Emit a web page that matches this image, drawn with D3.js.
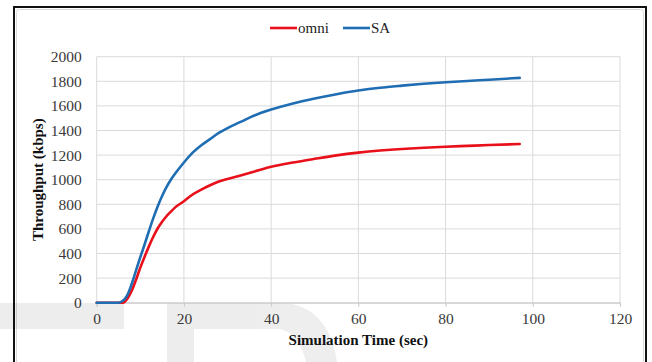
<!DOCTYPE html>
<html>
<head>
<meta charset="utf-8">
<script src="https://cdn.jsdelivr.net/npm/d3@7"></script>
<style>
  body { margin: 0; background: #fff; }
  svg text { font-family: "Liberation Serif", "Times New Roman", serif; }
</style>
</head>
<body>
<div id="chart"></div>
<script>
// Data
var times = [0, 4, 5, 6, 7, 8, 9, 10, 11, 12, 13, 14, 15, 16, 17, 18, 20, 22, 24, 26, 28, 30, 33, 36, 40, 45, 50, 55, 60, 65, 70, 75, 80, 85, 90, 97]
var omni = [0, 0, 0, 0, 30, 95, 185, 285, 375, 460, 538, 605, 658, 703, 740, 775, 825, 880, 920, 955, 985, 1005, 1035, 1065, 1105, 1140, 1170, 1198, 1220, 1237, 1250, 1260, 1268, 1275, 1282, 1290]
var sa = [0, 0, 0, 15, 60, 150, 260, 370, 475, 585, 690, 785, 868, 940, 1000, 1050, 1140, 1220, 1280, 1330, 1380, 1420, 1470, 1520, 1570, 1620, 1660, 1695, 1725, 1748, 1765, 1780, 1792, 1803, 1813, 1828]
var xTicks = [0, 20, 40, 60, 80, 100, 120]
var yTicks = [0, 200, 400, 600, 800, 1000, 1200, 1400, 1600, 1800, 2000]
var seriesNames = ["omni", "SA"]
var seriesColors = ["#e8101a", "#1f6db3"]

var svgWidth = 652
var svgHeight = 362

var margin = { top: 56.7, right: 32, bottom: 59.3, left: 96.7 }
var width = 620 - margin.left
var height = 302.7 - margin.top

var svg = d3.select("#chart")
  .append("svg")
  .attr("width", svgWidth)
  .attr("height", svgHeight)

svg.append("rect")
  .attr("width", svgWidth)
  .attr("height", svgHeight)
  .attr("fill", "#fff")

// outer frame and chart-area border
svg.append("rect")
  .attr("x", 16.5).attr("y", 9.5)
  .attr("width", 627).attr("height", 360)
  .attr("rx", 3)
  .attr("fill", "none")
  .attr("stroke", "#d9d9d9")

svg.append("rect")
  .attr("x", 14).attr("y", 7)
  .attr("width", 632).attr("height", 370)
  .attr("fill", "none")
  .attr("stroke", "#111")
  .attr("stroke-width", 2)

// faint watermark in the lower part
var wm = svg.append("g").attr("fill", "#000").attr("opacity", 0.065)
wm.append("rect").attr("x", 0).attr("y", 303).attr("width", 124).attr("height", 26)
wm.append("rect").attr("x", 167).attr("y", 303).attr("width", 27).attr("height", 60)
wm.append("path")
  .attr("d", "M194,303 L282,303 Q328,305 337,362 L306,362 Q298,331 278,329 L194,329 Z")

var chartGroup = svg.append("g")
  .attr("transform", `translate(${margin.left}, ${margin.top})`)

var xScale = d3.scaleLinear().domain([0, 120]).range([0, width])
var yScale = d3.scaleLinear().domain([0, 2000]).range([height, 0])

// gridlines
chartGroup.append("g")
  .selectAll("line")
  .data(yTicks)
  .enter()
  .append("line")
  .attr("x1", 0)
  .attr("x2", width)
  .attr("y1", d => yScale(d))
  .attr("y2", d => yScale(d))
  .attr("stroke", "#dadada")
  .attr("stroke-width", 1)

chartGroup.append("g")
  .selectAll("line")
  .data(xTicks)
  .enter()
  .append("line")
  .attr("x1", d => xScale(d))
  .attr("x2", d => xScale(d))
  .attr("y1", 0)
  .attr("y2", height)
  .attr("stroke", "#dadada")
  .attr("stroke-width", 1)

// axes
var bottomAxis = d3.axisBottom(xScale).tickValues(xTicks).tickFormat(d3.format("d")).tickSize(4).tickPadding(6)
var leftAxis = d3.axisLeft(yScale).tickValues(yTicks).tickFormat(d3.format("d")).tickSize(0).tickPadding(15)

var xAxis = chartGroup.append("g")
  .attr("transform", `translate(0, ${height})`)
  .call(bottomAxis)
  .attr("font-family", "Liberation Serif, serif")
  .attr("font-size", 15.5)
xAxis.select(".domain").attr("stroke", "#c8c8c8")
xAxis.selectAll(".tick line").attr("stroke", "#c8c8c8")
xAxis.selectAll("text").attr("fill", "#3a3a3a")

var yAxis = chartGroup.append("g")
  .call(leftAxis)
  .attr("font-family", "Liberation Serif, serif")
  .attr("font-size", 15.5)
yAxis.select(".domain").remove()
yAxis.selectAll("text").attr("fill", "#3a3a3a")

// lines
var allSeries = [omni, sa]
var line = d3.line()
  .x((d, i) => xScale(times[i]))
  .y(d => yScale(d))
  .curve(d3.curveMonotoneX)

chartGroup.selectAll(".series")
  .data(allSeries)
  .enter()
  .append("path")
  .attr("class", "series")
  .attr("d", d => line(d))
  .attr("fill", "none")
  .attr("stroke", (d, i) => seriesColors[i])
  .attr("stroke-width", 2.6)
  .attr("stroke-linejoin", "round")
  .attr("stroke-linecap", "round")

// axis titles
svg.append("text")
  .attr("x", margin.left + width / 2)
  .attr("y", 345)
  .attr("text-anchor", "middle")
  .attr("font-weight", "bold")
  .attr("font-size", 15)
  .attr("fill", "#111")
  .text("Simulation Time (sec)")

svg.append("text")
  .attr("transform", `translate(43, ${margin.top + height / 2}) rotate(-90)`)
  .attr("text-anchor", "middle")
  .attr("font-weight", "bold")
  .attr("font-size", 15)
  .attr("fill", "#111")
  .text("Throughput (kbps)")

// legend
var legendX = [270, 343]
var legend = svg.append("g")
  .selectAll("g")
  .data(seriesNames)
  .enter()
  .append("g")
  .attr("transform", (d, i) => `translate(${legendX[i]}, 28)`)

legend.append("line")
  .attr("x1", 0).attr("x2", 27)
  .attr("y1", 0).attr("y2", 0)
  .attr("stroke", (d, i) => seriesColors[i])
  .attr("stroke-width", 2.6)

legend.append("text")
  .attr("x", 28)
  .attr("y", 5)
  .attr("font-size", 15)
  .attr("fill", "#222")
  .text(d => d)
</script>
</body>
</html>
